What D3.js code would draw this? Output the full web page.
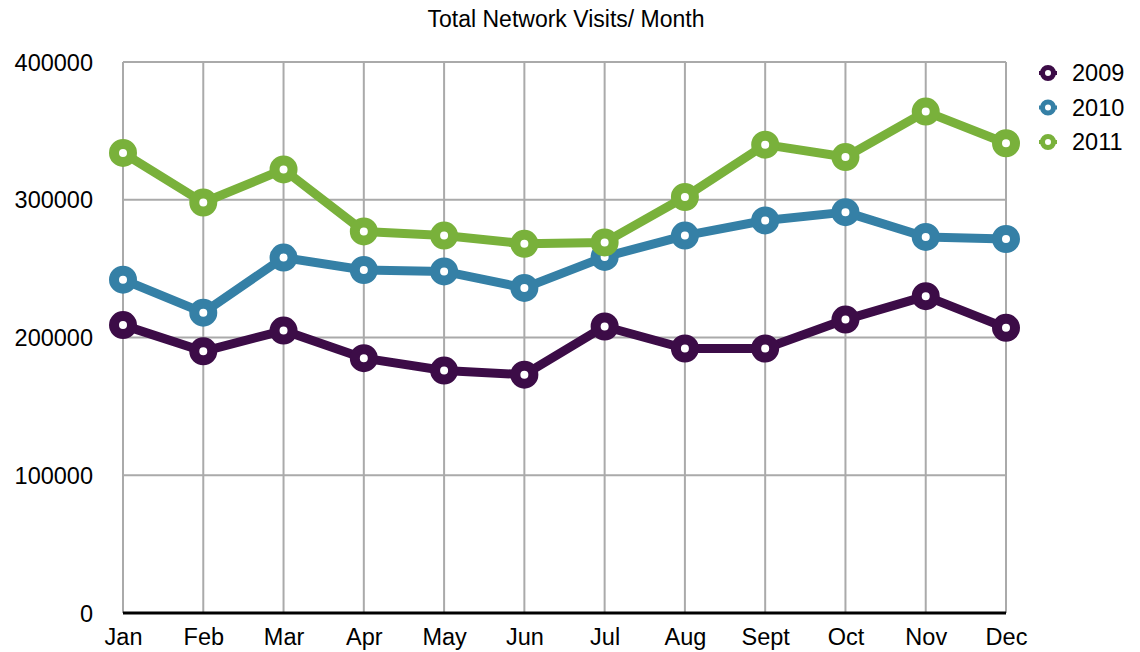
<!DOCTYPE html>
<html>
<head>
<meta charset="utf-8">
<script src="https://cdn.jsdelivr.net/npm/d3@7"></script>
<style>
  body { margin: 0; background: #fff; }
  text { font-family: "Liberation Sans", Arial, Helvetica, sans-serif; fill: #000; }
</style>
</head>
<body>
<div id="chart"></div>
<script>
// data
const months = ["Jan", "Feb", "Mar", "Apr", "May", "Jun", "Jul", "Aug", "Sept", "Oct", "Nov", "Dec"];
const years = ["2009", "2010", "2011"];
const visits2009 = [209000, 190000, 205000, 185000, 176000, 173000, 208000, 192000, 192000, 213000, 230000, 207000];
const visits2010 = [242000, 218000, 258000, 249000, 248000, 236000, 258500, 274000, 285000, 291000, 273000, 271500];
const visits2011 = [334000, 298000, 322000, 277000, 274000, 268000, 269000, 302000, 340000, 331000, 364000, 341000];
const yTicks = [0, 100000, 200000, 300000, 400000];

const colors = ["#3c0c47", "#3580a6", "#79b13b"];
const series = [visits2009, visits2010, visits2011];

// svg size
const w = 1140;
const h = 652;

const svg = d3.select("#chart")
              .append("svg")
              .attr("width", w)
              .attr("height", h);

// scales
const xScale = d3.scalePoint()
                 .domain(months)
                 .range([123, 1006]);
const yScale = d3.scaleLinear()
                 .domain([0, 400000])
                 .range([613, 62]);

// title
svg.append("text")
   .text("Total Network Visits/ Month")
   .attr("x", 566)
   .attr("y", 27)
   .attr("text-anchor", "middle")
   .style("font-size", "23px");

// horizontal grid lines
svg.append("g")
   .selectAll("line")
   .data(yTicks.filter(d => d > 0))
   .enter()
   .append("line")
   .attr("x1", 123)
   .attr("x2", 1006)
   .attr("y1", d => yScale(d))
   .attr("y2", d => yScale(d))
   .style("stroke", "#aaaaaa")
   .style("stroke-width", 2);

// vertical grid lines
svg.append("g")
   .selectAll("line")
   .data(months)
   .enter()
   .append("line")
   .attr("x1", d => xScale(d))
   .attr("x2", d => xScale(d))
   .attr("y1", yScale(400000))
   .attr("y2", yScale(0))
   .style("stroke", "#aaaaaa")
   .style("stroke-width", 2);

// y axis labels
const yAxis = d3.axisLeft(yScale)
                .tickValues(yTicks)
                .tickSize(0)
                .tickPadding(30)
                .tickFormat(d3.format("d"));
const gy = svg.append("g")
              .attr("transform", "translate(123,0)")
              .call(yAxis);
gy.select(".domain").remove();
gy.selectAll("text").style("font-size", "23.5px").attr("dy", "0.35em");

// x axis
const xAxis = d3.axisBottom(xScale).tickSize(0).tickPadding(15);
const gx = svg.append("g")
              .attr("transform", "translate(0,613)")
              .call(xAxis);
gx.select(".domain")
  .attr("d", "M123,0H1006")
  .style("stroke", "#000")
  .style("stroke-width", 3);
gx.selectAll("text").style("font-size", "23.5px");

// lines
const line = d3.line()
               .x((d, i) => xScale(months[i]))
               .y(d => yScale(d));

series.forEach((s, k) => {
    svg.append("path")
       .datum(s)
       .attr("d", line)
       .style("fill", "none")
       .style("stroke", colors[k])
       .style("stroke-width", 9)
       .style("stroke-linejoin", "round");

    svg.append("g")
       .selectAll("circle")
       .data(s)
       .enter()
       .append("circle")
       .attr("cx", (d, i) => xScale(months[i]))
       .attr("cy", d => yScale(d))
       .attr("r", 9)
       .style("fill", "#fff")
       .style("stroke", colors[k])
       .style("stroke-width", 10);
});

// legend
const legend = svg.append("g").attr("id", "legend");
years.forEach((y, k) => {
    const ly = 73 + k * 34.5;
    legend.append("line")
          .attr("x1", 1039)
          .attr("x2", 1057)
          .attr("y1", ly)
          .attr("y2", ly)
          .style("stroke", colors[k])
          .style("stroke-width", 4);
    legend.append("circle")
          .attr("cx", 1048)
          .attr("cy", ly)
          .attr("r", 5.5)
          .style("fill", "#fff")
          .style("stroke", colors[k])
          .style("stroke-width", 5);
    legend.append("text")
          .text(y)
          .attr("x", 1072)
          .attr("y", ly)
          .attr("dy", "0.35em")
          .style("font-size", "23.5px");
});
</script>
</body>
</html>
